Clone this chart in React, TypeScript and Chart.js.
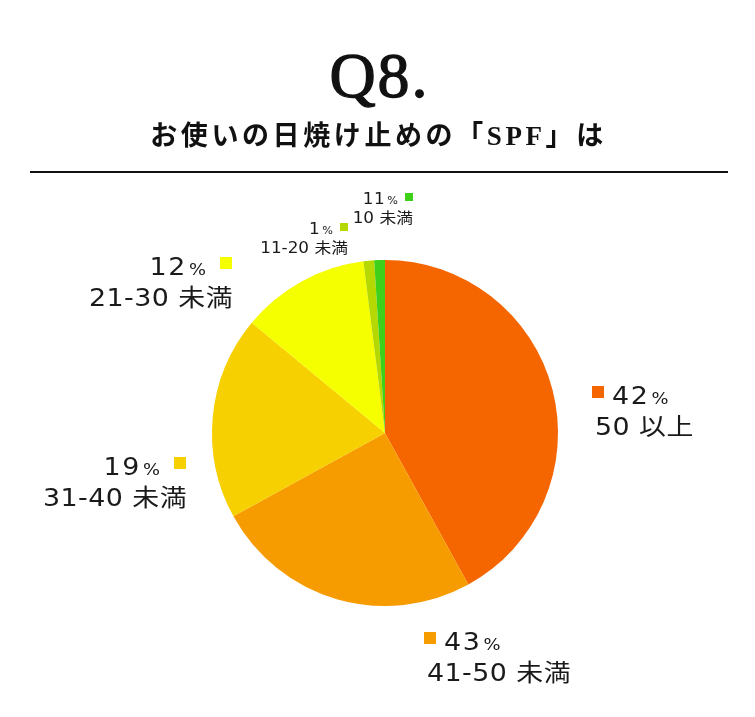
import { useEffect, useRef } from "react";
import { Chart, registerables } from "chart.js";
Chart.register(...registerables);

// SPF of the sunscreen in use — shares
const categories = ["50 以上", "41-50 未満", "31-40 未満", "21-30 未満", "11-20 未満", "10 未満"];
const shares = [42, 25, 19, 12, 1, 1];
// percentages as printed next to each slice
const printedPercents = ["42", "43", "19", "12", "1", "11"];
const sliceColors = ["#F56500", "#F79C00", "#F6D000", "#F5FF00", "#B5D900", "#3FD01A"];

const TITLE = "Q8.";
const SUBTITLE = "お使いの日焼け止めの「SPF」は";

// where each label's colour marker sits, relative to the pie centre
const labelLayout = [
  { side: "right", dx: 207, dy: -47, big: true },
  { side: "right", dx: 39, dy: 199, big: true },
  { side: "left", dx: -199, dy: 24, big: true },
  { side: "left", dx: -153, dy: -176, big: true },
  { side: "left", dx: -37, dy: -210, big: false },
  { side: "left", dx: 28, dy: -240, big: false },
];

const FONT = '"DejaVu Sans", "Noto Sans CJK JP", sans-serif';
const WIDEN = 1.12; // the label face is a wide gothic

// draws text stretched horizontally, returns its drawn width
function wideText(ctx: CanvasRenderingContext2D, text: string, x: number, y: number, align: "left" | "right") {
  const w = ctx.measureText(text).width * WIDEN;
  ctx.save();
  ctx.translate(align === "left" ? x : x - w, y);
  ctx.scale(WIDEN, 1);
  ctx.textAlign = "left";
  ctx.fillText(text, 0, 0);
  ctx.restore();
  return w;
}

const headerPlugin = {
  id: "header",
  beforeDraw(chart: Chart) {
    const ctx = chart.ctx;
    const w = chart.width;
    ctx.save();
    ctx.fillStyle = "#111";
    ctx.strokeStyle = "#111";
    ctx.textAlign = "center";
    ctx.textBaseline = "alphabetic";
    ctx.font = '64px "Liberation Serif", serif';
    (ctx as any).letterSpacing = "2px";
    ctx.fillText(TITLE, w / 2 + 2, 97);
    ctx.lineWidth = 1.3;
    ctx.strokeText(TITLE, w / 2 + 2, 97);
    ctx.font = 'bold 27px "Liberation Serif", "Noto Sans CJK JP", serif';
    (ctx as any).letterSpacing = "3.6px";
    ctx.textBaseline = "middle";
    ctx.fillText(SUBTITLE, w / 2 + 1, 138);
    ctx.fillRect(30, 171, 698, 2);
    ctx.restore();
  },
};

const labelPlugin = {
  id: "sliceLabels",
  afterDatasetsDraw(chart: Chart) {
    const ctx = chart.ctx;
    const arcs = chart.getDatasetMeta(0).data as any[];
    if (!arcs.length) return;
    const cx = arcs[0].x;
    const cy = arcs[0].y;
    ctx.save();
    ctx.textBaseline = "alphabetic";
    labelLayout.forEach((lay, i) => {
      const big = lay.big;
      const m = big ? 12 : 8;
      const mx = cx + lay.dx; // marker outer edge
      const my = cy + lay.dy; // marker top
      const numFont = big ? `24px ${FONT}` : `15px ${FONT}`;
      const pctFont = big ? `16px ${FONT}` : `10px ${FONT}`;
      const catFont = big ? `24px ${FONT}` : `15px ${FONT}`;
      const numSpace = big ? "1.5px" : "0.5px";
      const catSpace = big ? "0.4px" : "0px";
      const base1 = my + (big ? 18 : 11);
      const base2 = my + (big ? 49 : 30);
      ctx.fillStyle = sliceColors[i];
      if (lay.side === "right") ctx.fillRect(mx, my, m, m);
      else ctx.fillRect(mx - m, my, m, m);
      ctx.fillStyle = "#1a1a1a";
      if (lay.side === "right") {
        ctx.font = numFont;
        (ctx as any).letterSpacing = numSpace;
        const nx = mx + (big ? 20 : 13);
        const nw = wideText(ctx, printedPercents[i], nx, base1, "left");
        ctx.font = pctFont;
        (ctx as any).letterSpacing = "0px";
        wideText(ctx, "%", nx + nw + 2, base1, "left");
        ctx.font = catFont;
        (ctx as any).letterSpacing = catSpace;
        wideText(ctx, categories[i], mx + (big ? 3 : 2), base2, "left");
      } else {
        ctx.font = pctFont;
        (ctx as any).letterSpacing = "0px";
        const px = mx - m - (big ? 14 : 7);
        const pw = wideText(ctx, "%", px, base1, "right");
        ctx.font = numFont;
        (ctx as any).letterSpacing = numSpace;
        wideText(ctx, printedPercents[i], px - pw - 2, base1, "right");
        ctx.font = catFont;
        (ctx as any).letterSpacing = catSpace;
        wideText(ctx, categories[i], mx + (big ? 1 : 0), base2, "right");
      }
    });
    ctx.restore();
  },
};

export default function App() {
  const ref = useRef<HTMLCanvasElement>(null);
  useEffect(() => {
    if (!ref.current) return;
    const chart = new Chart(ref.current, {
      type: "pie",
      data: {
        labels: categories,
        datasets: [{ data: shares, backgroundColor: sliceColors, borderWidth: 0 }],
      },
      options: {
        responsive: true,
        maintainAspectRatio: false,
        animation: false,
        events: [],
        layout: { padding: { left: 212, right: 197, top: 260, bottom: 111 } },
        plugins: { legend: { display: false }, tooltip: { enabled: false } },
      },
      plugins: [headerPlugin, labelPlugin],
    });
    return () => chart.destroy();
  }, []);
  return (
    <div style={{ position: "absolute", left: 0, top: 0, width: 755, height: 717, background: "#fff" }}>
      <canvas ref={ref} />
    </div>
  );
}
